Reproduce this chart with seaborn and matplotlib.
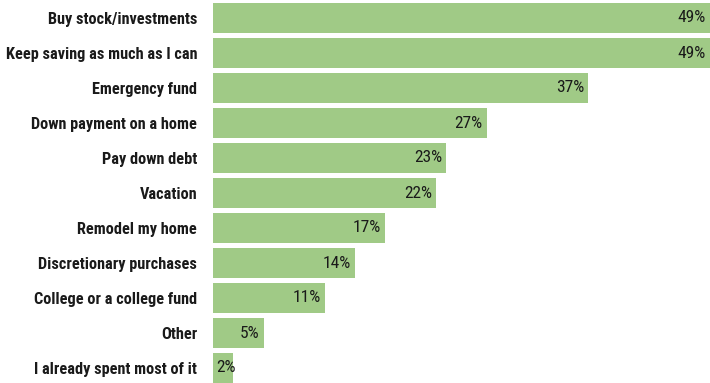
import matplotlib.pyplot as plt
import pandas as pd
import seaborn as sns

categories = [
    'Buy stock/investments',
    'Keep saving as much as I can',
    'Emergency fund',
    'Down payment on a home',
    'Pay down debt',
    'Vacation',
    'Remodel my home',
    'Discretionary purchases',
    'College or a college fund',
    'Other',
    'I already spent most of it',
]
shares = [49, 49, 37, 27, 23, 22, 17, 14, 11, 5, 2]

BAR = '#a0ca86'
FONT = ['Roboto Condensed', 'DejaVu Sans']

df = pd.DataFrame({'category': categories, 'share': shares})

fig = plt.figure(figsize=(7.1, 3.83), dpi=100)
ax = fig.add_axes([213 / 710, 0, 497 / 710, 1])
sns.barplot(data=df, y='category', x='share', color=BAR, saturation=1,
            width=0.86, ax=ax)
ax.set_xlim(0, 49)
ax.set_ylim(10 + 15 / 35, -18 / 35)
ax.set_xlabel('')
ax.set_ylabel('')
ax.set_xticks([])
ax.tick_params(axis='y', length=0, pad=11.5)
for lbl in ax.get_yticklabels():
    lbl.set_fontfamily(FONT)
    lbl.set_fontweight('bold')
    lbl.set_fontsize(11.7)
    lbl.set_color('#1a1a1a')
for s in ax.spines.values():
    s.set_visible(False)

# value labels, right-aligned just inside the bar end
for i, v in enumerate(shares):
    if v >= 4:
        ax.annotate(f'{v}%', xy=(v, i), xytext=(-3, 0),
                    textcoords='offset points', ha='right', va='center',
                    fontsize=12.5, color='#1a1a1a', family=FONT)
    else:
        ax.annotate(f'{v}%', xy=(0, i), xytext=(2.5, 0),
                    textcoords='offset points', ha='left', va='center',
                    fontsize=12.5, color='#1a1a1a', family=FONT)
plt.savefig('out.png', dpi=100)
